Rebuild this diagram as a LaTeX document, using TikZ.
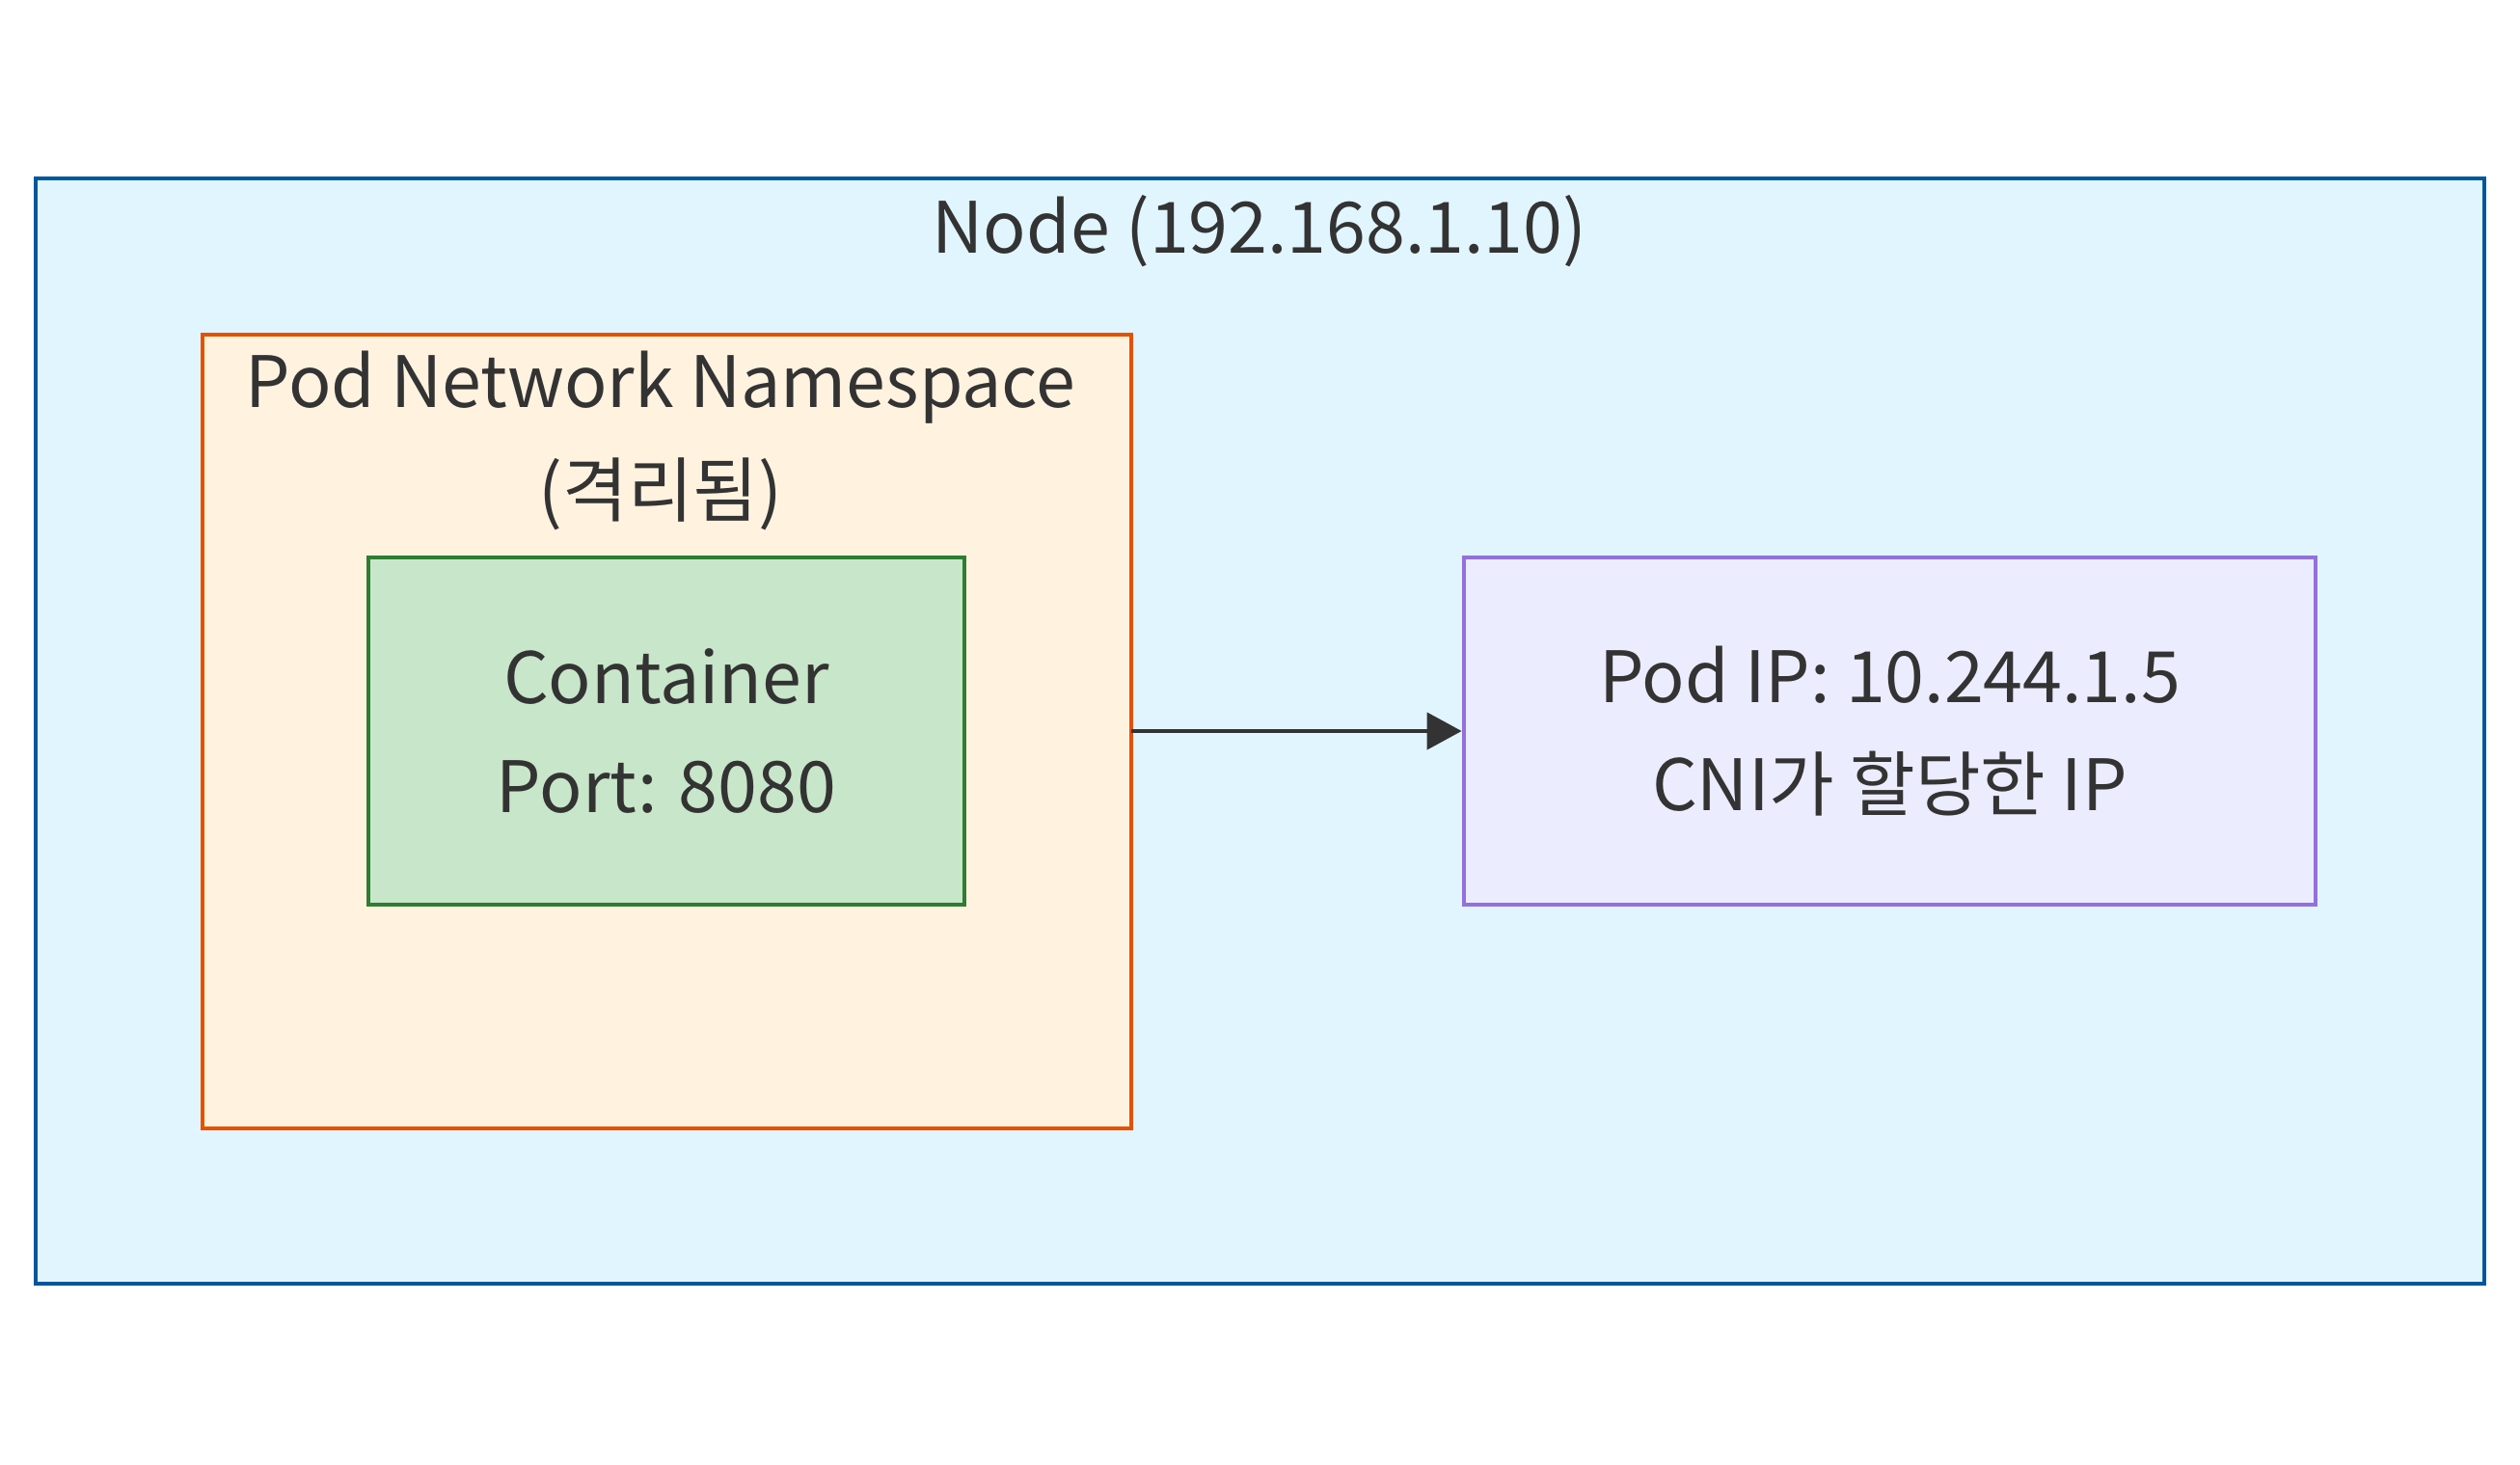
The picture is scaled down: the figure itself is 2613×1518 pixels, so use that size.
\documentclass[tikz,border=0pt]{standalone}
\usepackage{fontspec}
\setmainfont{Noto Sans CJK KR}
\usepackage{xcolor}
\usepackage{tikz}
\usetikzlibrary{positioning, calc, arrows.meta}

\definecolor{nodefill}{HTML}{E1F5FE}
\definecolor{nodeline}{HTML}{01579B}
\definecolor{nsfill}{HTML}{FFF3E0}
\definecolor{nsline}{HTML}{E65100}
\definecolor{ctrfill}{HTML}{C8E6C9}
\definecolor{ctrline}{HTML}{2E7D32}
\definecolor{ipfill}{HTML}{ECECFF}
\definecolor{ipline}{HTML}{9370DB}
\definecolor{txt}{HTML}{333333}

\begin{document}
\begin{tikzpicture}[x=0.01cm, y=-0.01cm,
  box/.style={draw, line width=1.2pt, inner sep=0pt},
  lbl/.style={text=txt, align=center, inner sep=0pt,
    font=\fontsize{20.9pt}{31.9pt}\selectfont},
  link/.style={draw=txt, line width=1.2pt, -{Triangle[length=0.36cm, width=0.38cm]}}]
  % Canvas
  \useasboundingbox (0,0) rectangle (2613,1518);

  % Corners of the boxes
  \coordinate (N1) at (37,185);
  \coordinate (N2) at (2576,1331);
  \coordinate (S1) at (210,347);
  \coordinate (S2) at (1173,1170);
  \coordinate (C1) at (382,578);
  \coordinate (C2) at (1000,938);
  \coordinate (P1) at (1518,578);
  \coordinate (P2) at (2401,938);

  % Node
  \draw[box, fill=nodefill, draw=nodeline] (N1) rectangle (N2);
  \node[lbl] (nodetitle) at (1306,240) {Node (192.168.1.10)};

  % Pod network namespace
  \draw[box, fill=nsfill, draw=nsline] (S1) rectangle (S2);
  \coordinate (nseast) at (1173,758);
  \node[lbl] (nstitle) at (685,457) {Pod Network Namespace\\(격리됨)};

  % Container
  \node[box, fill=ctrfill, draw=ctrline, minimum width=6.18cm, minimum height=3.6cm,
    lbl, text=txt] (container) at ($(C1)!0.5!(C2)$) {Container\\Port: 8080};

  % Pod IP
  \node[box, fill=ipfill, draw=ipline, minimum width=8.83cm, minimum height=3.6cm,
    lbl, text=txt] (podip) at ($(P1)!0.5!(P2)$) {Pod IP: 10.244.1.5\\CNI가 할당한 IP};

  % Arrow
  \draw[link] (nseast) -- (podip.west);
\end{tikzpicture}
\end{document}
